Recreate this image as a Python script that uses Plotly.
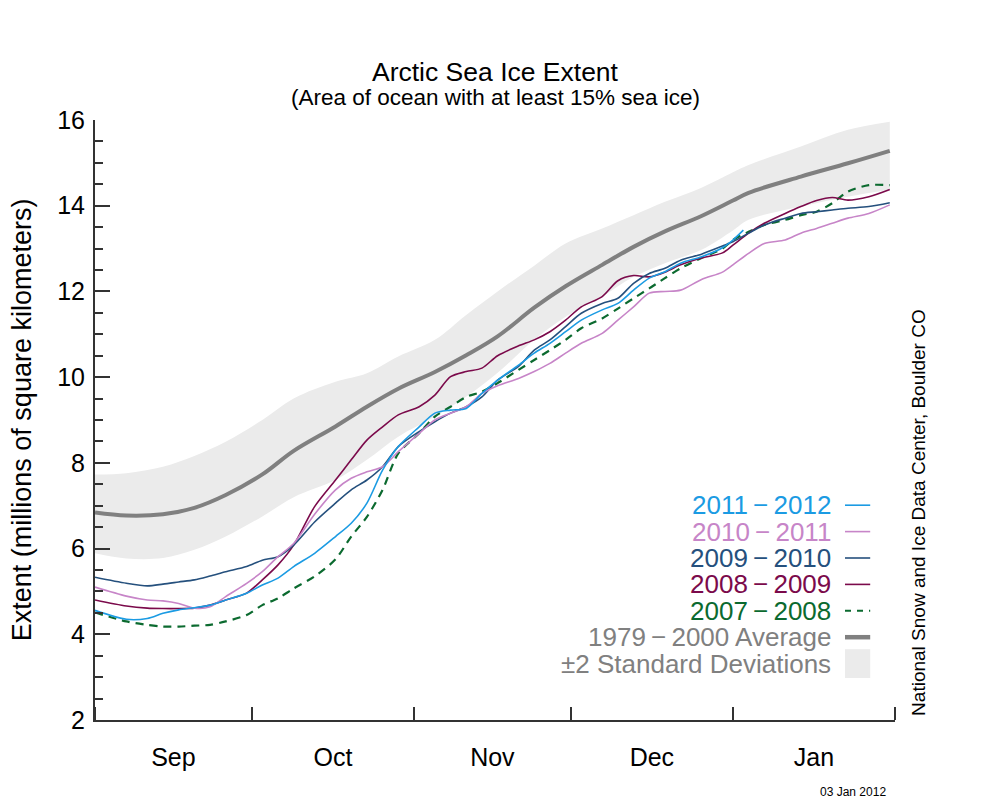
import pandas as pd
import plotly.graph_objects as go

# ---------------- data (days since 1 Sep, extent in million km^2) ----------------
season_start = "2011-09-01"

days = [0, 6, 10, 13, 16, 19, 22, 25, 29, 32, 35, 38, 42, 46, 49, 52, 55, 58, 62, 65,
        68, 71, 74, 77, 81, 84, 87, 90, 93, 97, 100, 103, 106, 109, 112, 116, 120, 122,
        125, 128, 132, 135, 138, 141, 144, 148, 152]

days_1112 = [0, 6, 10, 13, 16, 19, 22, 25, 29, 32, 35, 38, 42, 46, 49, 52, 55, 58, 62, 65,
             68, 71, 74, 77, 81, 84, 87, 90, 93, 97, 100, 103, 106, 109, 112, 116, 120, 122,
             124]

ext_2011_2012 = [4.56, 4.35, 4.37, 4.49, 4.57, 4.62, 4.68, 4.80, 4.96, 5.15, 5.31, 5.58, 5.89,
                 6.28, 6.59, 7.06, 7.83, 8.38, 8.84, 9.16, 9.23, 9.27, 9.62, 9.93, 10.28,
                 10.56, 10.79, 11.06, 11.33, 11.57, 11.72, 12.03, 12.31, 12.46, 12.66, 12.81,
                 13.02, 13.20, 13.43]

ext_2010_2011 = [5.10, 4.89, 4.80, 4.78, 4.72, 4.61, 4.64, 4.88, 5.19, 5.46, 5.81, 6.12, 6.80,
                 7.37, 7.64, 7.79, 7.91, 8.26, 8.69, 9.00, 9.16, 9.31, 9.62, 9.80, 9.97,
                 10.13, 10.32, 10.56, 10.79, 11.02, 11.33, 11.64, 11.96, 12.00, 12.03, 12.28,
                 12.45, 12.62, 12.89, 13.12, 13.20, 13.36, 13.47, 13.59, 13.71, 13.82, 14.02]

ext_2009_2010 = [5.33, 5.19, 5.13, 5.17, 5.22, 5.27, 5.36, 5.46, 5.58, 5.73, 5.81, 6.08, 6.62,
                 7.06, 7.37, 7.60, 7.91, 8.38, 8.73, 8.96, 9.16, 9.31, 9.54, 9.93, 10.25,
                 10.63, 10.87, 11.18, 11.49, 11.72, 11.84, 12.19, 12.42, 12.54, 12.73, 12.87,
                 13.06, 13.16, 13.36, 13.55, 13.71, 13.82, 13.86, 13.90, 13.94, 13.98, 14.07]

ext_2008_2009 = [4.80, 4.66, 4.61, 4.60, 4.60, 4.61, 4.68, 4.80, 4.96, 5.27, 5.62, 6.08, 6.98,
                 7.60, 8.07, 8.53, 8.84, 9.12, 9.31, 9.58, 10.01, 10.13, 10.21, 10.50, 10.73,
                 10.87, 11.06, 11.33, 11.64, 11.88, 12.25, 12.37, 12.34, 12.45, 12.62, 12.78,
                 12.90, 13.08, 13.36, 13.59, 13.82, 13.98, 14.12, 14.19, 14.13, 14.21, 14.38]

ext_2007_2008 = [4.51, 4.30, 4.22, 4.18, 4.18, 4.20, 4.22, 4.30, 4.45, 4.68, 4.84, 5.07, 5.35,
                 5.75, 6.28, 6.74, 7.37, 8.22, 8.69, 9.08, 9.31, 9.54, 9.66, 9.86, 10.17,
                 10.40, 10.63, 10.87, 11.14, 11.37, 11.60, 11.84, 12.07, 12.31, 12.54, 12.78,
                 13.00, 13.20, 13.39, 13.55, 13.67, 13.78, 13.86, 14.06, 14.33, 14.48, 14.48]

avg_days = [0, 6, 13, 19, 25, 32, 38, 46, 52, 58, 65, 71, 77, 84, 90, 97, 103, 109, 116,
            122, 125, 135, 144, 152]
avg_1979_2000 = [6.84, 6.77, 6.80, 6.95, 7.25, 7.73, 8.28, 8.85, 9.31, 9.73, 10.12, 10.51,
                 10.95, 11.62, 12.12, 12.62, 13.04, 13.40, 13.76, 14.12, 14.30, 14.68, 14.99,
                 15.28]
band_upper = [7.73, 7.76, 7.91, 8.16, 8.49, 9.00, 9.50, 9.89, 10.09, 10.48, 10.87, 11.45,
              12.00, 12.60, 13.12, 13.47, 13.78, 14.09, 14.42, 14.78, 14.95, 15.38, 15.77,
              15.96]
band_lower = [5.89, 5.77, 5.78, 5.97, 6.28, 6.75, 7.20, 7.60, 8.07, 8.61, 9.08, 9.54,
              10.10, 10.87, 11.41, 11.88, 12.34, 12.66, 12.97, 13.42, 13.67, 13.98, 14.21,
              14.37]

series_names = ["2011\u2009\u2212\u20092012", "2010\u2009\u2212\u20092011",
                "2009\u2009\u2212\u20092010", "2008\u2009\u2212\u20092009",
                "2007\u2009\u2212\u20092008"]
series_colors = ["#1b9be3", "#c785c8", "#25507d", "#7b0a4b", "#0b6a2f"]
avg_label = "1979\u2009\u2212\u20092000 Average"
band_label = "\u00b12 Standard Deviations"

# ---------------- helpers ----------------
start = pd.Timestamp(season_start)


def to_dates(d):
    return [start + pd.Timedelta(days=v) for v in d]


FONT = "Liberation Sans, Arial, Helvetica, sans-serif"
AX = "#333333"

fig = go.Figure()

# +-2 standard deviation band
fig.add_trace(go.Scatter(x=to_dates(avg_days), y=band_lower, mode="lines",
                         line=dict(width=0, color="#ebebeb", shape="spline"),
                         hoverinfo="skip", showlegend=False))
fig.add_trace(go.Scatter(x=to_dates(avg_days), y=band_upper, mode="lines",
                         line=dict(width=0, color="#ebebeb", shape="spline"),
                         fill="tonexty", fillcolor="#ebebeb",
                         hoverinfo="skip", showlegend=False))
# 1979-2000 average
fig.add_trace(go.Scatter(x=to_dates(avg_days), y=avg_1979_2000, mode="lines",
                         line=dict(width=4, color="#808080", shape="spline"),
                         showlegend=False))

series = [
    (days, ext_2007_2008, 4, "dash"),
    (days, ext_2008_2009, 3, "solid"),
    (days, ext_2009_2010, 2, "solid"),
    (days, ext_2010_2011, 1, "solid"),
    (days_1112, ext_2011_2012, 0, "solid"),
]
for d, vals, idx, dash in series:
    fig.add_trace(go.Scatter(
        x=to_dates(d), y=vals, mode="lines", name=series_names[idx],
        line=dict(width=2.2 if dash == "dash" else 1.6, color=series_colors[idx],
                  dash="8px,6px" if dash == "dash" else "solid",
                  shape="spline", smoothing=0.8),
        showlegend=False))

# ---------------- custom legend (right-aligned coloured text, sample on right) ----------------
leg_text = series_names + [avg_label, band_label]
leg_colors = series_colors + ["#808080", "#808080"]
leg_y = [0.358, 0.314, 0.270, 0.226, 0.182, 0.138, 0.094]
for t, c, yy in zip(leg_text, leg_colors, leg_y):
    fig.add_annotation(x=0.9225, y=yy, xref="paper", yref="paper", text=t,
                       showarrow=False, xanchor="right", yanchor="middle",
                       font=dict(family=FONT, size=26, color=c))
for i, yy in enumerate(leg_y[:5]):
    fig.add_shape(type="line", xref="paper", yref="paper", x0=0.9375, x1=0.969,
                  y0=yy, y1=yy,
                  line=dict(color=series_colors[i], width=2 if i == 4 else 1.6,
                            dash="6px,6px" if i == 4 else "solid"))
fig.add_shape(type="line", xref="paper", yref="paper", x0=0.9375, x1=0.969,
              y0=leg_y[5], y1=leg_y[5], line=dict(color="#808080", width=4.5))
fig.add_shape(type="rect", xref="paper", yref="paper", x0=0.9375, x1=0.969,
              y0=leg_y[6] - 0.024, y1=leg_y[6] + 0.024, line=dict(width=0),
              fillcolor="#ebebeb")

# ---------------- titles / notes ----------------
fig.add_annotation(x=0.5, y=1.08, xref="paper", yref="paper", text="Arctic Sea Ice Extent",
                   showarrow=False, xanchor="center", yanchor="middle",
                   font=dict(family=FONT, size=26.5, color="#000"))
fig.add_annotation(x=0.5, y=1.038, xref="paper", yref="paper",
                   text="(Area of ocean with at least 15% sea ice)",
                   showarrow=False, xanchor="center", yanchor="middle",
                   font=dict(family=FONT, size=22.5, color="#000"))
fig.add_annotation(x=-0.091, y=0.5, xref="paper", yref="paper",
                   text="Extent (millions of square kilometers)", textangle=-90,
                   showarrow=False, xanchor="center", yanchor="middle",
                   font=dict(family=FONT, size=27, color="#000"))
fig.add_annotation(x=1.029, y=0.003, xref="paper", yref="paper",
                   text="National Snow and Ice Data Center, Boulder CO", textangle=-90,
                   showarrow=False, xanchor="center", yanchor="bottom",
                   font=dict(family=FONT, size=19, color="#000"))
fig.add_annotation(x=0.948, y=-0.12, xref="paper", yref="paper", text="03 Jan 2012",
                   showarrow=False, xanchor="center", yanchor="middle",
                   font=dict(family=FONT, size=12, color="#000"))

# the page body adds an 8 px offset, so margins are shifted to keep the plot
# area at 95..895 x 120..720 on screen
fig.update_layout(
    width=1000, height=800,
    margin=dict(l=87, r=113, t=112, b=88),
    paper_bgcolor="white", plot_bgcolor="white",
    showlegend=False,
    font=dict(family=FONT, color="#000"),
    xaxis=dict(type="date", range=["2011-09-01", "2012-02-01"],
               tick0="2011-09-01", dtick="M1", tickformat="%b",
               ticklabelmode="period", ticks="inside", ticklen=13, tickwidth=1.5,
               tickcolor=AX, showline=True, linecolor=AX, linewidth=2,
               showgrid=False, zeroline=False, ticklabelstandoff=14,
               tickfont=dict(family=FONT, size=25, color="#000")),
    yaxis=dict(range=[2, 16], tick0=2, dtick=2, ticks="inside", ticklen=15,
               tickwidth=1.5, tickcolor=AX, showline=True, linecolor=AX, linewidth=2,
               showgrid=False, zeroline=False, ticklabelstandoff=3,
               minor=dict(dtick=0.5, ticks="inside", ticklen=8, tickwidth=1.5,
                          tickcolor=AX, showgrid=False),
               tickfont=dict(family=FONT, size=25, color="#000")),
)

fig.write_html("out.html")
